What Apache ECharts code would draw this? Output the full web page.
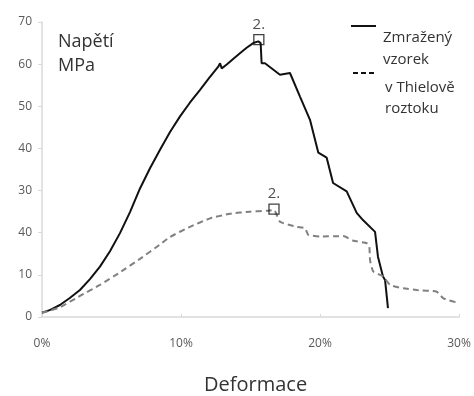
<!DOCTYPE html>
<html><head><meta charset="utf-8">
<script src="https://cdn.jsdelivr.net/npm/echarts@6/dist/echarts.min.js"></script>
<style>html,body{margin:0;padding:0;background:#fff}#c{width:474px;height:396px}</style>
</head><body><div id="c"></div>
<script>
// Deformace (%) / Napětí (MPa)
const frozenX = [0, 0.6, 1.29, 2.0, 2.73, 3.45, 4.17, 4.89, 5.61, 6.33, 7.05, 7.77, 8.49, 9.21, 9.93, 10.65, 11.37, 12.0, 12.68, 12.81, 12.93, 13.29, 13.77, 14.24, 14.72, 15.2, 15.56, 15.73, 15.8, 16.04, 16.17, 17.12, 17.84, 18.56, 19.28, 19.88, 20.48, 20.94, 21.92, 22.64, 23.09, 23.96, 24.17, 24.53, 24.68, 24.89];
const frozenY = [1.0, 1.7, 2.85, 4.5, 6.4, 9.0, 11.95, 15.6, 19.9, 24.9, 30.5, 35.3, 39.7, 43.9, 47.6, 50.9, 53.9, 56.6, 59.4, 60.2, 59.0, 59.9, 61.3, 62.6, 63.9, 65.0, 65.4, 65.0, 60.2, 60.2, 59.9, 57.5, 57.9, 52.3, 46.8, 39.0, 37.8, 31.8, 29.8, 24.7, 23.0, 20.2, 14.3, 9.6, 8.8, 2.1];
const thielX = [0, 1.29, 2.73, 4.17, 5.61, 7.05, 8.49, 9.21, 10.65, 12.09, 13.53, 14.96, 16.17, 16.69, 17.12, 18.32, 18.92, 19.16, 20.0, 21.68, 22.4, 23.36, 23.55, 23.6, 23.83, 24.55, 25.04, 26.0, 26.96, 28.4, 28.88, 30.0];
const thielY = [1.0, 2.3, 5.0, 7.6, 10.6, 13.8, 17.2, 19.0, 21.4, 23.4, 24.5, 25.0, 25.2, 25.4, 22.6, 21.4, 21.1, 19.5, 19.1, 19.2, 18.1, 17.5, 16.7, 13.5, 10.8, 9.6, 7.6, 6.8, 6.4, 6.0, 4.4, 3.3];
const peakX = [15.6, 16.69];
const peakY = [65.8, 25.6];
const peakLabel = ['2.', '2.'];
const yTickLabels = ['0', '10', '40', '30', '40', '50', '60', '70'];
const xTickLabels = ['0%', '10%', '20%', '30%'];
const legendNames = ['Zmražený\nvzorek', 'v Thielově\nroztoku'];
const yTitle = 'Napětí\nMPa';
const xTitle = 'Deformace';

const zip = (a, b) => a.map((v, i) => [v, b[i]]);
const FONT = '"Open Sans", sans-serif';
const chart = echarts.init(document.getElementById('c'));
chart.setOption({
  animation: false,
  backgroundColor: '#fff',
  grid: { left: 42, right: 15, top: 22, bottom: 79 },
  xAxis: {
    type: 'value', min: 0, max: 30, interval: 10,
    axisLine: { lineStyle: { color: '#d9d9d9', width: 1.5 } },
    axisTick: { show: true, inside: true, length: 3, lineStyle: { color: '#d9d9d9' } },
    splitLine: { show: false },
    axisLabel: { margin: 21, color: '#595959', fontFamily: FONT, fontSize: 12,
      formatter: v => xTickLabels[Math.round(v / 10)] }
  },
  yAxis: {
    type: 'value', min: 0, max: 70, interval: 10,
    axisLine: { show: true, lineStyle: { color: '#d9d9d9', width: 1.5 } },
    axisTick: { show: true, length: 4, lineStyle: { color: '#d9d9d9' } },
    splitLine: { show: false },
    axisLabel: { margin: 10, color: '#595959', fontFamily: FONT, fontSize: 12,
      formatter: v => yTickLabels[Math.round(v / 10)] }
  },
  series: [
    { type: 'line', data: zip(frozenX, frozenY), showSymbol: false, smooth: false,
      lineStyle: { color: '#111', width: 2 } },
    { type: 'line', data: zip(thielX, thielY), showSymbol: false, smooth: 0.15,
      lineStyle: { color: '#808080', width: 2, type: [6, 4] } },
    { type: 'scatter', data: zip(peakX, peakY), symbol: 'rect', symbolSize: 10,
      itemStyle: { color: 'rgba(255,255,255,0)', borderColor: '#111', borderWidth: 1.3 },
      label: { show: true, position: 'top', distance: 2, color: '#222', fontFamily: FONT, fontSize: 15,
        formatter: p => peakLabel[p.dataIndex] }, z: 5 }
  ],
  graphic: [
    { type: 'text', left: 58, top: 30, style: { text: yTitle, font: '18px ' + FONT, fill: '#333', lineHeight: 24 } },
    { type: 'text', left: 204, top: 375, style: { text: xTitle, font: '20px ' + FONT, fill: '#333' } },
    { type: 'line', shape: { x1: 351, y1: 26, x2: 376, y2: 26 }, style: { stroke: '#111', lineWidth: 2 } },
    { type: 'line', shape: { x1: 353, y1: 73, x2: 376, y2: 73 }, style: { stroke: '#111', lineWidth: 2, lineDash: [5, 3] } },
    { type: 'text', left: 383, top: 27, style: { text: legendNames[0], font: '15px ' + FONT, fill: '#333', lineHeight: 22 } },
    { type: 'text', left: 385, top: 77, style: { text: legendNames[1], font: '15px ' + FONT, fill: '#333', lineHeight: 21 } }
  ]
});
</script></body></html>
